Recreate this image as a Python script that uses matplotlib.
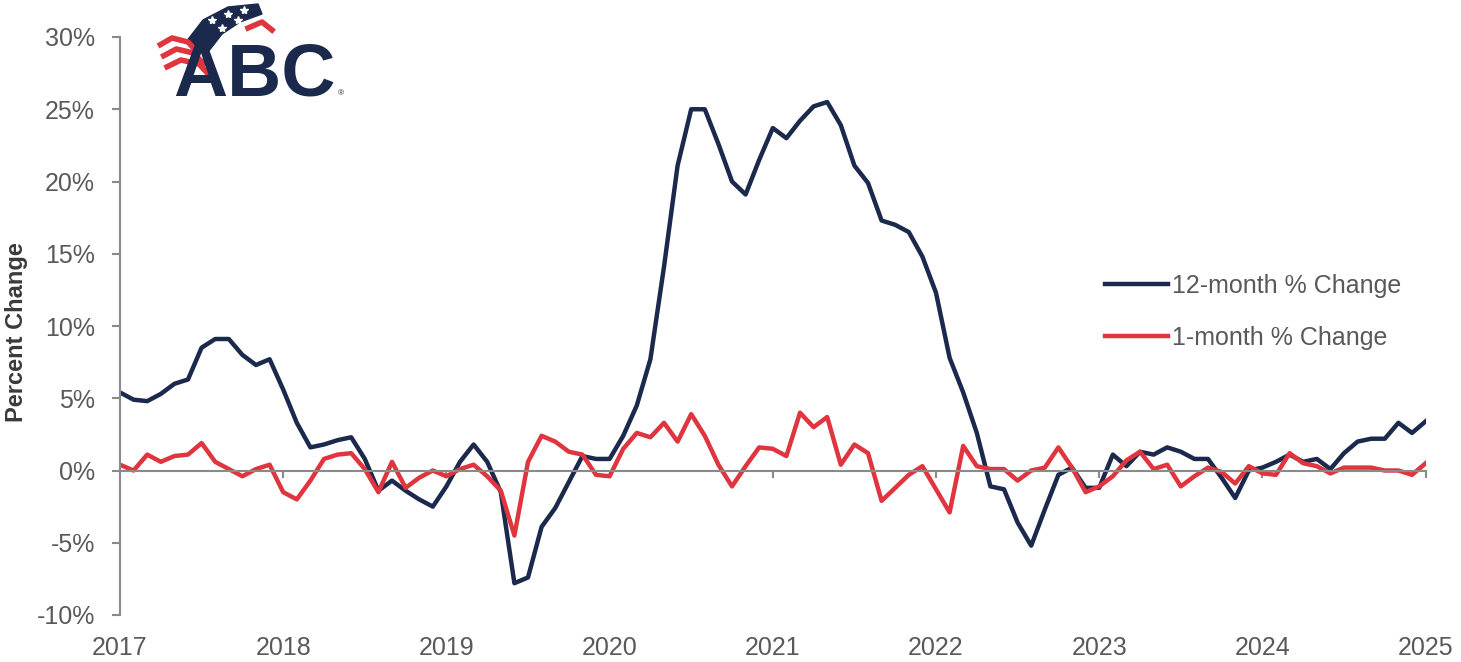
import matplotlib
matplotlib.use('Agg')
import numpy as np
import matplotlib.pyplot as plt
from matplotlib.patches import Polygon
from matplotlib.lines import Line2D

plt.rcParams['font.family'] = ['Liberation Sans', 'DejaVu Sans']

# monthly, Jan 2017 .. Jan 2025 (decimal years)
months = 2017 + np.arange(97) / 12

twelve_month = [
    5.4, 4.9, 4.8, 5.3, 6.0, 6.3, 8.5, 9.1, 9.1, 8.0, 7.3, 7.7,          # 2017
    5.6, 3.3, 1.6, 1.8, 2.1, 2.3, 0.8, -1.4, -0.7, -1.4, -2.0, -2.5,     # 2018
    -1.1, 0.6, 1.8, 0.6, -1.5, -7.8, -7.4, -3.9, -2.6, -0.8, 1.0, 0.8,   # 2019
    0.8, 2.4, 4.5, 7.7, 14.1, 21.1, 25.0, 25.0, 22.6, 20.0, 19.1, 21.5,  # 2020
    23.7, 23.0, 24.2, 25.2, 25.5, 23.9, 21.1, 19.9, 17.3, 17.0, 16.5, 14.8,  # 2021
    12.3, 7.8, 5.4, 2.6, -1.1, -1.3, -3.6, -5.2, -2.7, -0.3, 0.2, -1.2,  # 2022
    -1.2, 1.1, 0.3, 1.3, 1.1, 1.6, 1.3, 0.8, 0.8, -0.5, -1.9, 0.0,       # 2023
    0.2, 0.6, 1.1, 0.6, 0.8, 0.1, 1.2, 2.0, 2.2, 2.2, 3.3, 2.6,          # 2024
    3.4,                                                                 # 2025
]
one_month = [
    0.4, 0.0, 1.1, 0.6, 1.0, 1.1, 1.9, 0.6, 0.1, -0.4, 0.1, 0.4,
    -1.5, -2.0, -0.7, 0.8, 1.1, 1.2, 0.1, -1.5, 0.6, -1.2, -0.5, 0.0,
    -0.4, 0.1, 0.4, -0.4, -1.4, -4.5, 0.6, 2.4, 2.0, 1.3, 1.1, -0.3,
    -0.4, 1.5, 2.6, 2.3, 3.3, 2.0, 3.9, 2.4, 0.4, -1.1, 0.3, 1.6,
    1.5, 1.0, 4.0, 3.0, 3.7, 0.4, 1.8, 1.2, -2.1, -1.2, -0.3, 0.3,
    -1.3, -2.9, 1.7, 0.3, 0.1, 0.1, -0.7, 0.0, 0.2, 1.6, 0.2, -1.5,
    -1.1, -0.4, 0.7, 1.3, 0.1, 0.4, -1.1, -0.4, 0.2, -0.1, -0.9, 0.3,
    -0.2, -0.3, 1.2, 0.5, 0.3, -0.2, 0.2, 0.2, 0.2, 0.0, 0.0, -0.3,
    0.5,
]
years = list(range(2017, 2026))
y_ticks = [-10, -5, 0, 5, 10, 15, 20, 25, 30]
y_labels = [f'{v}%' for v in y_ticks]

NAVY = '#1b2a4c'
RED = '#e0343f'
GRAY = '#8a8a8a'
TXT = '#595959'

W, H = 1461, 662
fig = plt.figure(figsize=(W / 100, H / 100), dpi=100)
ax = fig.add_axes([120 / W, 1 - 615 / H, 1305.6 / W, 578 / H])

ax.plot(months, twelve_month, color=NAVY, lw=3.2, label='12-month % Change')
ax.plot(months, one_month, color=RED, lw=3.2, label='1-month % Change')

ax.set_xlim(months[0], months[-1])
ax.set_ylim(-10, 30)

for s in ['top', 'right']:
    ax.spines[s].set_visible(False)
ax.spines['left'].set_color(GRAY)
ax.spines['left'].set_linewidth(1.5)
ax.spines['bottom'].set_position(('data', 0))
ax.spines['bottom'].set_color(GRAY)
ax.spines['bottom'].set_linewidth(1.5)

ax.set_yticks(y_ticks, labels=y_labels)
ax.tick_params(axis='y', direction='out', length=6, width=1.5, color=GRAY,
               labelsize=18, labelcolor=TXT, pad=12)
ax.set_xticks(years)
ax.tick_params(axis='x', direction='out', length=5, width=1.5, color=GRAY,
               labelbottom=False)

# year labels sit below the plot
sec = ax.secondary_xaxis('bottom')
sec.set_xticks(years, labels=[str(y) for y in years])
sec.spines['bottom'].set_visible(False)
sec.tick_params(length=0, labelsize=18, labelcolor=TXT, pad=15)

ax.set_ylabel('Percent Change', fontsize=17, fontweight='bold', color='#3a3a3a')
ax.yaxis.set_label_coords(-0.0705, 0.49)

ax.legend(loc='upper left', bbox_to_anchor=(1105 / W, 1 - 274 / H),
          bbox_transform=fig.transFigure, frameon=False, fontsize=18,
          handlelength=2.5, handletextpad=0.2, labelspacing=1.12,
          borderpad=0, borderaxespad=0, labelcolor=TXT)


# rough ABC logo
def px(x, y):
    return (x / W, 1 - y / H)


fig.add_artist(Polygon([px(*p) for p in [(186, 42), (203, 20), (228, 7), (258, 4),
                                          (262, 14), (240, 22), (222, 34), (208, 52)]],
                       closed=True, transform=fig.transFigure, color=NAVY))
for sx, sy in [(212, 20), (228, 14), (244, 10), (222, 28), (238, 20)]:
    fig.add_artist(Line2D([sx / W], [1 - sy / H], marker='*', color='white',
                          markersize=6, transform=fig.transFigure))
for off in [0, 11, 22]:
    xs = [158 + off * 0.3, 172 + off * 0.4, 188 + off * 0.5, 200 + off * 0.5]
    ys = [46 + off, 38 + off, 42 + off, 55 + off]
    fig.add_artist(Line2D([x / W for x in xs], [1 - y / H for y in ys],
                          color=RED, lw=4, solid_capstyle='butt',
                          transform=fig.transFigure))
fig.add_artist(Line2D([248 / W, 262 / W, 272 / W], [1 - 28 / H, 1 - 22 / H, 1 - 30 / H],
                      color=RED, lw=4, transform=fig.transFigure))
fig.text(173 / W, 1 - 95 / H, 'ABC', fontsize=54, fontweight='heavy', color=NAVY,
         va='baseline', ha='left')
fig.text(338 / W, 1 - 95 / H, '®', fontsize=6, color=NAVY, va='baseline')

fig.savefig('out.png', dpi=100, facecolor='white')
